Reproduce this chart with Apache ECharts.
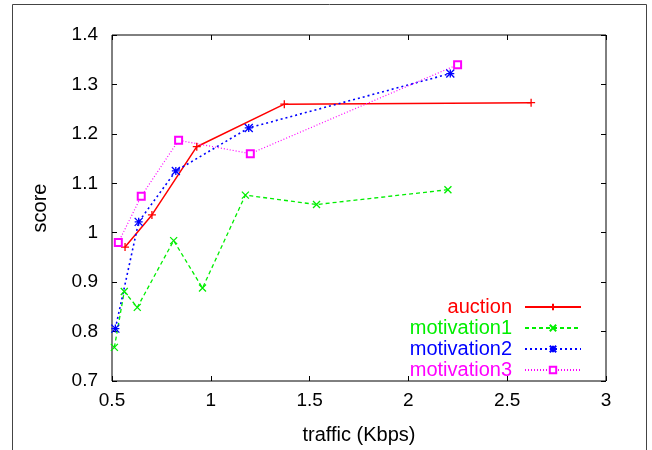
<!DOCTYPE html>
<html>
<head>
<meta charset="utf-8">
<script src="https://cdn.jsdelivr.net/npm/echarts@6/dist/echarts.min.js"></script>
<style>html,body{margin:0;padding:0;background:#fff}#c{width:652px;height:450px}</style>
</head>
<body>
<div id="c"></div>
<script>
var seriesNames = ['auction', 'motivation1', 'motivation2', 'motivation3'];
var auctionX = [0.566, 0.702, 0.929, 1.372, 2.621];
var auctionY = [0.971, 1.036, 1.174, 1.260, 1.263];
var motivation1X = [0.512, 0.562, 0.628, 0.812, 0.958, 1.175, 1.535, 2.200];
var motivation1Y = [0.768, 0.881, 0.849, 0.984, 0.888, 1.076, 1.057, 1.087];
var motivation2X = [0.517, 0.635, 0.823, 1.192, 2.212];
var motivation2Y = [0.806, 1.022, 1.125, 1.212, 1.322];
var motivation3X = [0.532, 0.648, 0.837, 1.200, 2.249];
var motivation3Y = [0.980, 1.074, 1.187, 1.160, 1.340];
var xTicks = [0.5, 1, 1.5, 2, 2.5, 3];
var yTicks = [0.7, 0.8, 0.9, 1.0, 1.1, 1.2, 1.3, 1.4];

function pairs(xs, ys) { return xs.map(function (x, i) { return [x, ys[i]]; }); }

var FONT = 'Liberation Sans';
var colors = ['#ff0000', '#00ee00', '#0000ff', '#ff00ff'];
var symbols = [
  'path://M0,5L10,5M5,0L5,10',
  'path://M0,0L10,10M10,0L0,10',
  'path://M0,0L10,10M10,0L0,10M5,0L5,10M0,5L10,5',
  'emptyRect'
];
var symbolSizes = [8, 7, 8, 7];
var lineTypes = ['solid', [4, 3], [2, 3], [1, 2]];
var lineWidths = [1.5, 1.3, 1.6, 1.2];
var data = [pairs(auctionX, auctionY), pairs(motivation1X, motivation1Y), pairs(motivation2X, motivation2Y), pairs(motivation3X, motivation3Y)];

var series = seriesNames.map(function (n, i) {
  var it = i === 3 ? { color: colors[i], borderWidth: 1 } : { color: colors[i], borderColor: colors[i], borderWidth: 1.3 };
  return {
    name: n, type: 'line', data: data[i], xAxisIndex: 0, yAxisIndex: 0,
    symbol: symbols[i], symbolSize: symbolSizes[i], showSymbol: true,
    color: colors[i],
    lineStyle: { color: colors[i], width: lineWidths[i], type: lineTypes[i] },
    itemStyle: it,
    animation: false
  };
});

var legendRowsY = [307, 328, 349, 370];
var legends = seriesNames.map(function (n, i) {
  return {
    data: [n], orient: 'horizontal', align: 'right', right: 70, top: legendRowsY[i] - 10,
    padding: 0, itemWidth: 56, itemHeight: 8,
    textStyle: { color: colors[i], fontSize: 20, fontFamily: FONT, padding: [0, 8, 0, 0] },
    selectedMode: false
  };
});

var axisCommon = {
  type: 'value', axisLine: { show: false }, splitLine: { show: false },
  axisTick: { show: true, inside: true, length: 5, lineStyle: { color: '#000', width: 1 } }
};

var option = {
  backgroundColor: '#fff',
  animation: false,
  grid: { left: 112, top: 35, width: 494, height: 348, show: true, borderColor: '#000', borderWidth: 1, backgroundColor: 'transparent' },
  legend: legends,
  xAxis: [
    Object.assign({}, axisCommon, {
      min: 0.5, max: 3, interval: 0.5, position: 'bottom',
      name: 'traffic (Kbps)', nameLocation: 'middle', nameGap: 44,
      nameTextStyle: { fontSize: 20, fontFamily: FONT, color: '#000' },
      axisLabel: { fontSize: 19, fontFamily: FONT, color: '#000', margin: 10 }
    }),
    Object.assign({}, axisCommon, { min: 0.5, max: 3, interval: 0.5, position: 'top', axisLabel: { show: false } })
  ],
  yAxis: [
    Object.assign({}, axisCommon, {
      min: 0.7, max: 1.4, interval: 0.1, position: 'left',
      name: 'score', nameLocation: 'middle', nameGap: 62, nameRotate: 90,
      nameTextStyle: { fontSize: 20, fontFamily: FONT, color: '#000' },
      axisLabel: { fontSize: 19, fontFamily: FONT, color: '#000', margin: 14,
        formatter: function (v) { return String(Math.round(v * 10) / 10); } }
    }),
    Object.assign({}, axisCommon, { min: 0.7, max: 1.4, interval: 0.1, position: 'right', axisLabel: { show: false } })
  ],
  graphic: [
    { type: 'rect', shape: { x: 12.5, y: 4.5, width: 634, height: 470 }, style: { fill: 'none', stroke: '#444', lineWidth: 1 }, silent: true, z: -1 }
  ],
  series: series
};

var chart = echarts.init(document.getElementById('c'), null, { renderer: 'canvas' });
chart.setOption(option);
</script>
</body>
</html>
